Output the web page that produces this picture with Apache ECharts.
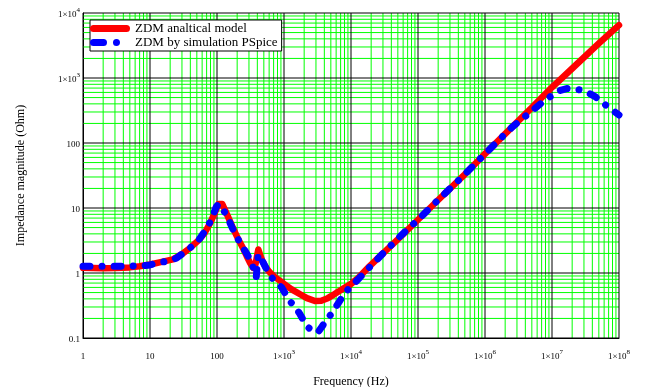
<!DOCTYPE html>
<html>
<head>
<meta charset="utf-8">
<script src="https://cdn.jsdelivr.net/npm/echarts@6/dist/echarts.min.js"></script>
<style>
  html, body { margin: 0; padding: 0; background: #fff; }
  #main { width: 651px; height: 387px; }
</style>
</head>
<body>
<div id="main"></div>
<script>
// analytical model (red)
const modelFreq = [1, 2, 3, 5, 7, 10, 15, 22, 30, 40, 55, 66, 80, 93, 105, 111, 120, 135, 148, 175, 208, 245, 277, 315, 348, 375, 395, 414, 440, 480, 520, 600, 700, 870, 1000, 1300, 1740, 2200, 2900, 3600, 4500, 5450, 6500, 8000, 10000, 13000, 19000, 30000, 50000, 1e5, 2e5, 5e5, 1e6, 2e6, 5e6, 1e7, 2e7, 5e7, 1e8];
const modelZ = [1.2, 1.18, 1.19, 1.22, 1.27, 1.35, 1.48, 1.62, 1.95, 2.45, 3.3, 4.2, 6.0, 8.5, 11.5, 12.2, 11.5, 8.8, 7.1, 4.8, 3.3, 2.4, 1.83, 1.4, 1.2, 1.35, 1.8, 2.3, 1.9, 1.5, 1.28, 1.05, 0.9, 0.76, 0.68, 0.56, 0.47, 0.41, 0.37, 0.375, 0.41, 0.46, 0.52, 0.59, 0.68, 0.85, 1.28, 2.0, 3.3, 6.6, 13.3, 33, 68, 138, 350, 720, 1400, 3400, 6500];

// PSpice simulation (blue)
const pspiceFreq = [1, 1.5, 2.3, 3.5, 5, 8, 10, 14, 20, 25, 35, 45, 52, 65, 78, 88, 98, 105, 115, 130, 148, 180, 210, 245, 280, 310, 340, 365, 385, 400, 412, 440, 490, 560, 655, 780, 920, 1050, 1230, 1450, 1700, 2000, 2300, 2700, 3200, 3700, 4300, 5000, 5800, 7000, 8150, 10800, 15000, 20000, 30000, 50000, 1e5, 2e5, 5e5, 1e6, 2.5e6, 5e6, 7e6, 1.05e7, 1.3e7, 1.66e7, 2.2e7, 3.1e7, 4.4e7, 6.6e7, 8e7, 1e8];
const pspiceZ = [1.27, 1.27, 1.27, 1.27, 1.28, 1.3, 1.33, 1.45, 1.55, 1.7, 2.2, 2.7, 3.1, 4.3, 6.0, 8.0, 10.5, 11.4, 11.0, 8.6, 6.7, 4.3, 3.2, 2.46, 1.95, 1.62, 1.3, 1.0, 0.85, 1.4, 1.94, 1.75, 1.44, 1.1, 0.85, 0.7, 0.6, 0.48, 0.37, 0.3, 0.24, 0.18, 0.145, 0.128, 0.122, 0.15, 0.19, 0.23, 0.29, 0.39, 0.5, 0.67, 0.95, 1.3, 2.0, 3.4, 6.6, 13.3, 33, 68, 173, 310, 415, 560, 640, 687, 680, 630, 518, 370, 320, 270];

const xDecades = [1, 10, 100, 1e3, 1e4, 1e5, 1e6, 1e7, 1e8];
const yDecades = [0.1, 1, 10, 100, 1e3, 1e4];
const xTickLabels = ['1', '10', '100', '1×10^3', '1×10^4', '1×10^5', '1×10^6', '1×10^7', '1×10^8'];
const yTickLabels = ['0.1', '1', '10', '100', '1×10^3', '1×10^4'];
const minorSteps = [2, 3, 4, 5, 6, 7, 8, 9];

const serif = 'Liberation Serif';
const xMin = xDecades[0], xMax = xDecades[xDecades.length - 1];
const yMin = yDecades[0], yMax = yDecades[yDecades.length - 1];

function richLabel(txt) {
  const p = txt.split('^');
  return p.length > 1 ? `{b|${p[0]}}{s|${p[1]}}` : `{b|${p[0]}}`;
}

function labelFor(decades, labels) {
  return function (v) {
    const i = decades.findIndex(d => Math.abs(Math.log10(d) - Math.log10(v)) < 1e-6);
    return i < 0 ? '' : richLabel(labels[i]);
  };
}

const labelRich = {
  b: { fontFamily: serif, fontSize: 9, color: '#000', lineHeight: 12, verticalAlign: 'bottom' },
  s: { fontFamily: serif, fontSize: 7, color: '#000', lineHeight: 12, verticalAlign: 'top' }
};

// grid drawn as broken polylines: verticals at xs, horizontals at ys
function gridPath(xs, ys) {
  const pts = [];
  xs.forEach(x => { pts.push([x, yMin], [x, yMax], [x, '-']); });
  ys.forEach(y => { pts.push([xMin, y], [xMax, y], [xMax, '-']); });
  return pts;
}
const minorX = [], minorY = [];
xDecades.slice(0, -1).forEach(d => minorSteps.forEach(m => minorX.push(d * m)));
yDecades.slice(0, -1).forEach(d => minorSteps.forEach(m => minorY.push(d * m)));

function gridSeries(name, pts, color, z) {
  return {
    name: name,
    type: 'line',
    z: z,
    silent: true,
    clip: false,
    symbol: 'none',
    connectNulls: false,
    color: color,
    lineStyle: { color: color, width: 1 },
    emphasis: { disabled: true },
    data: pts
  };
}

// legend icons: thick red bar, blue dash + dot
const redIcon = 'path://M3.5,0 H36.5 A3.5,3.5 0 0 1 36.5,7 H3.5 A3.5,3.5 0 0 1 3.5,0 Z';
const blueIcon = 'path://M3.5,0 H13.5 A3.5,3.5 0 0 1 13.5,7 H3.5 A3.5,3.5 0 0 1 3.5,0 Z M26.5,0 A3.5,3.5 0 1 1 26.49,0 Z M40,3.5 L40,3.51 L39.99,3.51 Z';

function logAxis(min, max, name, nameGap, margin, decades, labels) {
  return {
    type: 'log',
    logBase: 10,
    min: min,
    max: max,
    name: name,
    nameLocation: 'middle',
    nameGap: nameGap,
    nameTextStyle: { fontFamily: serif, fontSize: 12, color: '#000' },
    axisLine: { show: true, lineStyle: { color: '#000', width: 1 } },
    axisTick: { show: false },
    splitLine: { show: false },
    minorTick: { show: false },
    minorSplitLine: { show: false },
    axisLabel: { margin: margin, formatter: labelFor(decades, labels), rich: labelRich }
  };
}

const dom = document.getElementById('main');
const myChart = echarts.init(dom);

const option = {
  animation: false,
  backgroundColor: '#fff',
  grid: { left: 83, right: 32, top: 13, bottom: 49, containLabel: false, outerBoundsMode: 'none' },
  legend: {
    data: [
      { name: 'ZDM analtical model', icon: redIcon },
      { name: 'ZDM by simulation PSpice', icon: blueIcon }
    ],
    orient: 'vertical',
    left: 90,
    top: 20,
    z: 10,
    padding: [2, 4, 2, 0],
    itemGap: 1,
    itemWidth: 40,
    itemHeight: 7,
    backgroundColor: '#fff',
    borderColor: '#000',
    borderWidth: 1,
    borderRadius: 0,
    textStyle: { fontFamily: serif, fontSize: 13, color: '#000' }
  },
  xAxis: logAxis(xMin, xMax, 'Frequency (Hz)', 38, 11, xDecades, xTickLabels),
  yAxis: logAxis(yMin, yMax, 'Impedance magnitude (Ohm)', 56, 3, yDecades, yTickLabels),
  series: [
    gridSeries('minorGrid', gridPath(minorX, minorY), '#00ff00', 1),
    gridSeries('majorGrid', gridPath(xDecades, yDecades), '#000000', 2),
    {
      name: 'ZDM analtical model',
      type: 'line',
      z: 3,
      symbol: 'none',
      color: '#ff0000',
      lineStyle: { color: '#ff0000', width: 6.5, cap: 'round', join: 'round' },
      data: modelFreq.map((f, i) => [f, modelZ[i]])
    },
    {
      name: 'ZDM by simulation PSpice',
      type: 'line',
      z: 4,
      symbol: 'none',
      color: '#0000ff',
      lineStyle: { color: '#0000ff', width: 7, type: [7, 12, 0.1, 12], cap: 'round', join: 'round' },
      data: pspiceFreq.map((f, i) => [f, pspiceZ[i]])
    }
  ]
};

myChart.setOption(option, true);
</script>
</body>
</html>
